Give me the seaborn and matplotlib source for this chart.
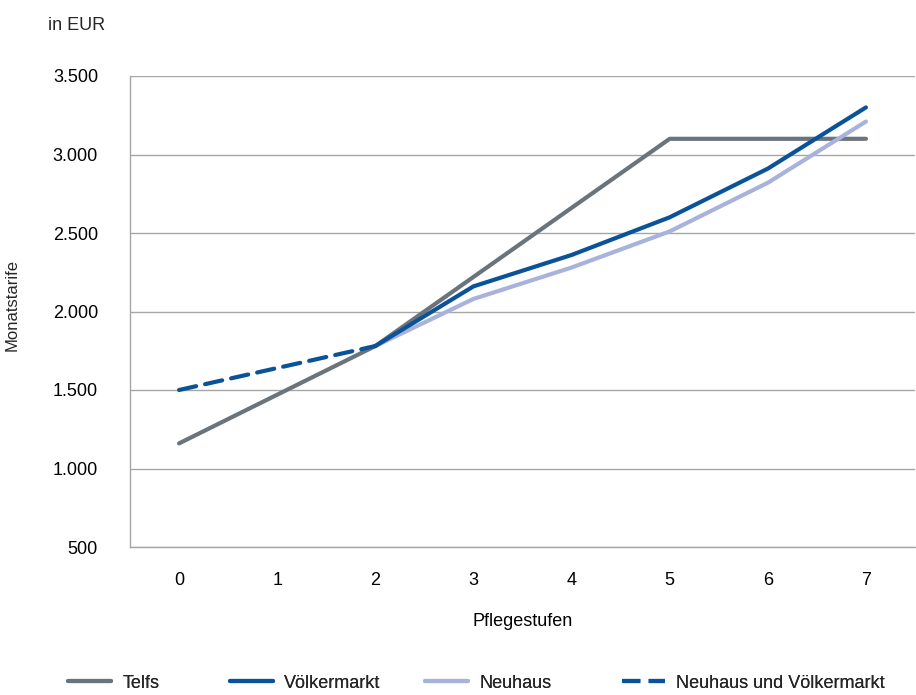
import numpy as np
import pandas as pd
import matplotlib
matplotlib.use("Agg")
import matplotlib.pyplot as plt
import seaborn as sns
from matplotlib.lines import Line2D

stufen = [0, 1, 2, 3, 4, 5, 6, 7]
telfs = [1160, 1470, 1780, 2220, 2660, 3100, 3100, 3100]
voelkermarkt = [np.nan, np.nan, 1780, 2160, 2360, 2600, 2910, 3300]
neuhaus = [np.nan, np.nan, 1780, 2080, 2280, 2510, 2820, 3210]
neuhaus_voelk = [1500, 1640, 1780, np.nan, np.nan, np.nan, np.nan, np.nan]
yticks = [500, 1000, 1500, 2000, 2500, 3000, 3500]
ytick_labels = ["500", "1.000", "1.500", "2.000", "2.500", "3.000", "3.500"]

sns.set_theme(style="white")
plt.rcParams['font.family'] = ['Liberation Sans', 'DejaVu Sans']

C_GRAY = "#6b747c"
C_BLUE = "#0b5399"
C_LIGHT = "#a8b3dc"
GRID = "#a6a6a6"
FS = 13

fig = plt.figure(figsize=(9.16, 6.95), dpi=100)
ax = fig.add_axes([130/916, 1-547/695, 785/916, (547-76)/695])

df = pd.DataFrame({"x": stufen, "Telfs": telfs, "Völkermarkt": voelkermarkt,
                   "Neuhaus": neuhaus, "NV": neuhaus_voelk})

lw = 3.0
sns.lineplot(data=df, x="x", y="Telfs", ax=ax, color=C_GRAY, lw=lw, solid_capstyle="round", zorder=3)
sns.lineplot(data=df, x="x", y="Neuhaus", ax=ax, color=C_LIGHT, lw=lw, solid_capstyle="round", zorder=4)
sns.lineplot(data=df, x="x", y="Völkermarkt", ax=ax, color=C_BLUE, lw=lw, solid_capstyle="round", zorder=5)
sns.lineplot(data=df, x="x", y="NV", ax=ax, color=C_BLUE, lw=lw, zorder=6)
ax.lines[-1].set_dashes([4.2, 2.2])
ax.lines[-1].set_dash_capstyle("round")

ax.set_xlim(-0.5, 7.5)
ax.set_ylim(500, 3500)
ax.set_yticks(yticks)
ax.set_yticklabels(ytick_labels)
ax.set_xticks(stufen)
ax.set_xticklabels([str(s) for s in stufen])
ax.set_xticks(np.arange(-0.5, 8.0, 1.0), minor=True)
ax.tick_params(axis="x", which="major", length=0, pad=18, labelsize=FS, colors="black")
ax.tick_params(axis="x", which="minor", length=5, width=1, color=GRID, direction="out")
ax.tick_params(axis="y", which="major", length=5, width=1, color=GRID, direction="out", pad=18, labelsize=FS, colors="black")
ax.yaxis.grid(True, color=GRID, lw=1)
ax.xaxis.grid(False)
ax.set_axisbelow(True)
for s in ["top", "right"]:
    ax.spines[s].set_visible(False)
for s in ["left", "bottom"]:
    ax.spines[s].set_color(GRID)
    ax.spines[s].set_linewidth(1)

ax.set_xlabel("Pflegestufen", fontsize=FS, labelpad=17, color="black")
ax.set_ylabel("")
fig.text(12/916, 1-305/695, "Monatstarife", rotation=90, ha="center", va="center", fontsize=12)
fig.text(48/916, 1-25/695, "in EUR", ha="left", va="center", fontsize=FS)

handles = [
    Line2D([], [], color=C_GRAY, lw=lw),
    Line2D([], [], color=C_BLUE, lw=lw),
    Line2D([], [], color=C_LIGHT, lw=lw),
    Line2D([], [], color=C_BLUE, lw=lw, dashes=[4.4, 2.0]),
]
labels = ["Telfs", "Völkermarkt", "Neuhaus", "Neuhaus und Völkermarkt"]
xpos = [68, 230, 425, 622]
for h, lab, xp in zip(handles, labels, xpos):
    leg = fig.legend([h], [lab], loc="center left", bbox_to_anchor=(xp/916, 1-683/695),
                     frameon=False, fontsize=FS, handlelength=2.4, handletextpad=0.6,
                     borderaxespad=0, borderpad=0)
    fig.add_artist(leg)

fig.savefig("out.png", dpi=100)
